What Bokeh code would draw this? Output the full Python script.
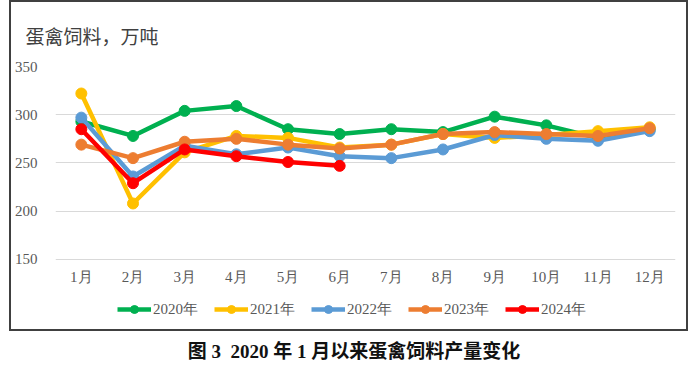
from bokeh.plotting import figure
from bokeh.models import Legend, LegendItem, FixedTicker, Div
from bokeh.layouts import column
from bokeh.embed import file_html
from bokeh.resources import INLINE

months = ["1月", "2月", "3月", "4月", "5月", "6月", "7月", "8月", "9月", "10月", "11月", "12月"]
y2020 = [293, 278, 304, 309, 285, 280, 285, 282, 298, 289, 276, 285]
y2021 = [322, 208, 261, 278, 276, 266, 269, 280, 276, 279, 283, 287]
y2022 = [297, 236, 268, 259, 266, 257, 255, 264, 279, 275, 273, 283]
y2023 = [269, 255, 272, 275, 269, 265, 269, 280, 282, 280, 278, 286]
y2024 = [285, 229, 264, 257, 251, 247]
series_names = ["2020年", "2021年", "2022年", "2023年", "2024年"]
series_vals = [y2020, y2021, y2022, y2023, y2024]
colors = ["#00B050", "#FFC000", "#5B9BD5", "#ED7D31", "#FF0000"]
yticks = [150, 200, 250, 300, 350]

# frame extends below 150 to hold the x labels and the legend (0.95 px per unit)
y_lo = 150 - 69 / 0.95

p = figure(x_range=months, y_range=(y_lo, 350), frame_width=616, frame_height=259,
           output_backend="svg", toolbar_location=None,
           min_border_left=44, min_border_right=15, min_border_top=61, min_border_bottom=4,
           styles={"border": "2px solid #404040"})
p.outline_line_color = None
p.title.text = "蛋禽饲料，万吨"
p.title.text_font = "Noto Sans CJK SC"
p.title.text_font_size = "19px"
p.title.text_font_style = "normal"
p.title.text_color = "#404040"
p.title.standoff = 35
p.title.offset = -30

serif = "Liberation Serif"
p.yaxis.ticker = FixedTicker(ticks=yticks)
for ax in (p.xaxis[0], p.yaxis[0]):
    ax.axis_line_color = None
    ax.major_tick_line_color = None
    ax.minor_tick_line_color = None
    ax.major_label_text_font = serif
    ax.major_label_text_font_size = "15px"
    ax.major_label_text_color = "#595959"
p.yaxis.major_label_standoff = 12
p.xaxis.fixed_location = 150
p.xaxis.major_label_standoff = 4
p.xgrid.grid_line_color = None
p.ygrid.grid_line_color = "#D9D9D9"
p.ygrid.grid_line_width = 1

items = []
for name, vals, c in zip(series_names, series_vals, colors):
    xs = months[:len(vals)]
    r1 = p.line(xs, vals, line_color=c, line_width=4.5)
    r2 = p.scatter(xs, vals, size=11, fill_color=c, line_color=c)
    items.append(LegendItem(label=name, renderers=[r1, r2]))

legend = Legend(items=items, orientation="horizontal", location=(62, 10),
                glyph_width=34, glyph_height=20, label_text_font=serif,
                label_text_font_size="15px", label_text_color="#595959",
                spacing=16, label_standoff=2, padding=0, margin=0,
                border_line_color=None, background_fill_alpha=0)
p.add_layout(legend, "center")

cap = Div(text="图 3&nbsp;&nbsp;2020 年 1 月以来蛋禽饲料产量变化", width=680, height=30,
          styles={"text-align": "center", "font-family": "Liberation Serif, Noto Sans CJK SC",
                  "font-size": "19px", "font-weight": "bold", "color": "#111", "width": "680px"})

layout = column(p, cap, spacing=2, margin=(0, 0, 0, 9))
open("out.html", "w").write(file_html(layout, INLINE))
